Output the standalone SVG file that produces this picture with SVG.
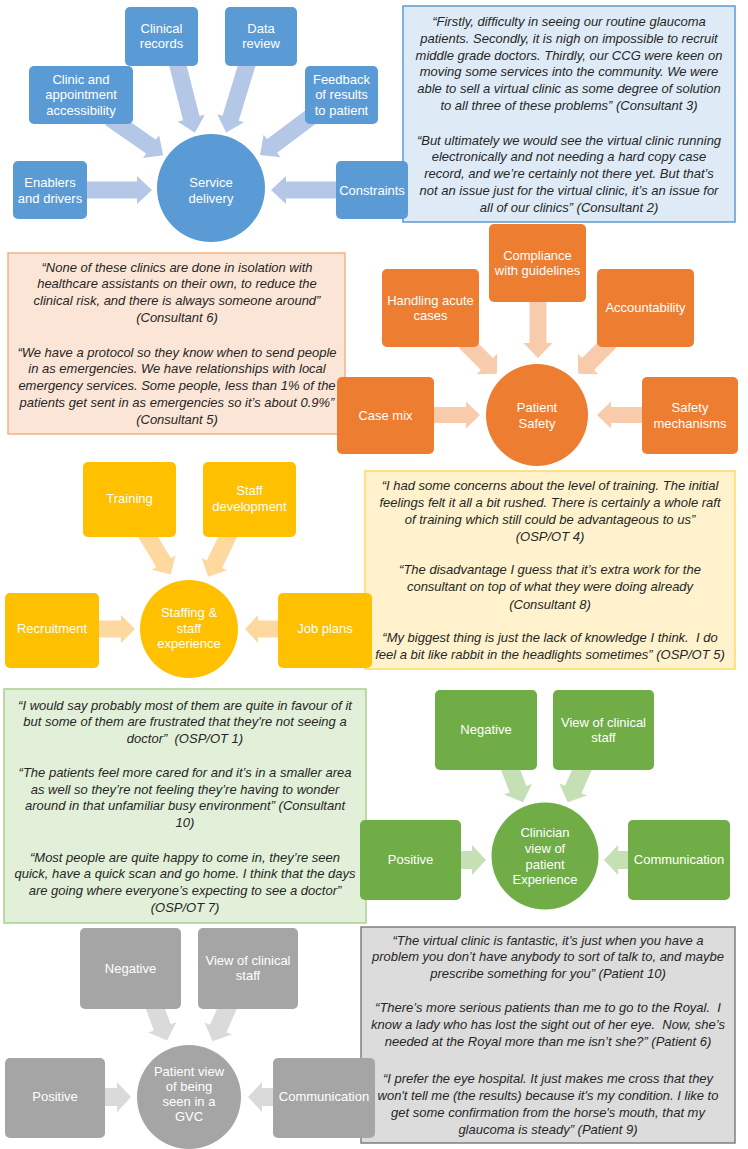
<svg xmlns="http://www.w3.org/2000/svg" width="748" height="1149" viewBox="0 0 748 1149">
<style>
.qt{font-family:"Liberation Sans",Arial,sans-serif;font-size:13px;font-style:italic;fill:#262626;text-anchor:middle}
.nt{font-family:"Liberation Sans",Arial,sans-serif;font-size:13px;fill:#ffffff;text-anchor:middle}
.qb{stroke-width:1.5}
.q-blue{fill:#deebf7;stroke:#5b9bd5}
.q-orange{fill:#fbe5d6;stroke:#f4b183}
.q-yellow{fill:#fff2cc;stroke:#ffd966}
.q-green{fill:#e2f0d9;stroke:#a9d18e}
.q-gray{fill:#dcdcdc;stroke:#7f7f7f}
.n-blue{fill:#5b9bd5}
.n-orange{fill:#ed7d31}
.n-yellow{fill:#ffc000}
.n-green{fill:#70ad47}
.n-gray{fill:#a5a5a5}
.a-blue{fill:#b4c7e7}
.a-orange{fill:#f8cbad}
.a-yellow{fill:#fdd9a0}
.a-green{fill:#c5e0b4}
.a-gray{fill:#dadada}
</style>
<rect width="748" height="1149" fill="#ffffff"/>

<!-- quote boxes -->
<g id="quote-service">
<rect class="qb q-blue" x="403" y="6" width="332" height="216"/>
<text class="qt" x="569" y="26">“Firstly, difficulty in seeing our routine glaucoma</text>
<text class="qt" x="569" y="42.8">patients. Secondly, it is nigh on impossible to recruit</text>
<text class="qt" x="569" y="59.6">middle grade doctors. Thirdly, our CCG were keen on</text>
<text class="qt" x="569" y="76.4">moving some services into the community. We were</text>
<text class="qt" x="569" y="93.2">able to sell a virtual clinic as some degree of solution</text>
<text class="qt" x="569" y="110">to all three of these problems” (Consultant 3)</text>
<text class="qt" x="569" y="144.5">“But ultimately we would see the virtual clinic running</text>
<text class="qt" x="569" y="161.3">electronically and not needing a hard copy case</text>
<text class="qt" x="569" y="178.1">record, and we’re certainly not there yet. But that’s</text>
<text class="qt" x="569" y="194.9">not an issue just for the virtual clinic, it’s an issue for</text>
<text class="qt" x="569" y="211.7">all of our clinics” (Consultant 2)</text>
</g>
<g id="quote-safety">
<rect class="qb q-orange" x="8" y="253" width="337" height="181"/>
<text class="qt" x="177" y="271.5">“None of these clinics are done in isolation with</text>
<text class="qt" x="177" y="288.3">healthcare assistants on their own, to reduce the</text>
<text class="qt" x="177" y="305.1">clinical risk, and there is always someone around”</text>
<text class="qt" x="177" y="321.9">(Consultant 6)</text>
<text class="qt" x="177" y="356.5">“We have a protocol so they know when to send people</text>
<text class="qt" x="177" y="373.3">in as emergencies. We have relationships with local</text>
<text class="qt" x="177" y="390.1">emergency services. Some people, less than 1% of the</text>
<text class="qt" x="177" y="406.9">patients get sent in as emergencies so it’s about 0.9%”</text>
<text class="qt" x="177" y="424">(Consultant 5)</text>
</g>
<g id="quote-staffing">
<rect class="qb q-yellow" x="365" y="471" width="370" height="198"/>
<text class="qt" x="550" y="489.5">“I had some concerns about the level of training. The initial</text>
<text class="qt" x="550" y="506.8">feelings felt it all a bit rushed. There is certainly a whole raft</text>
<text class="qt" x="550" y="524">of training which still could be advantageous to us”</text>
<text class="qt" x="550" y="541.2">(OSP/OT 4)</text>
<text class="qt" x="550" y="574">“The disadvantage I guess that it’s extra work for the</text>
<text class="qt" x="550" y="591.2">consultant on top of what they were doing already</text>
<text class="qt" x="550" y="608.5">(Consultant 8)</text>
<text class="qt" x="550" y="641.8" xml:space="preserve">“My biggest thing is just the lack of knowledge I think.  I do</text>
<text class="qt" x="550" y="658.8">feel a bit like rabbit in the headlights sometimes” (OSP/OT 5)</text>
</g>
<g id="quote-clinician">
<rect class="qb q-green" x="4" y="689" width="362" height="234"/>
<text class="qt" x="185" y="709.5">“I would say probably most of them are quite in favour of it</text>
<text class="qt" x="185" y="726.3">but some of them are frustrated that they're not seeing a</text>
<text class="qt" x="185" y="743" xml:space="preserve">doctor”  (OSP/OT 1)</text>
<text class="qt" x="185" y="776.8">“The patients feel more cared for and it’s in a smaller area</text>
<text class="qt" x="185" y="793.6">as well so they’re not feeling they’re having to wonder</text>
<text class="qt" x="185" y="810.4">around in that unfamiliar busy environment” (Consultant</text>
<text class="qt" x="185" y="827.2">10)</text>
<text class="qt" x="185" y="861.6">“Most people are quite happy to come in, they’re seen</text>
<text class="qt" x="185" y="878.4">quick, have a quick scan and go home. I think that the days</text>
<text class="qt" x="185" y="895.2">are going where everyone’s expecting to see a doctor”</text>
<text class="qt" x="185" y="912">(OSP/OT 7)</text>
</g>
<g id="quote-patient">
<rect class="qb q-gray" x="361" y="927" width="374" height="216"/>
<text class="qt" x="548" y="944.5">“The virtual clinic is fantastic, it’s just when you have a</text>
<text class="qt" x="548" y="961.3">problem you don’t have anybody to sort of talk to, and maybe</text>
<text class="qt" x="548" y="978.3">prescribe something for you” (Patient 10)</text>
<text class="qt" x="548" y="1011.8" xml:space="preserve">“There’s more serious patients than me to go to the Royal.  I</text>
<text class="qt" x="548" y="1028.8" xml:space="preserve">know a lady who has lost the sight out of her eye.  Now, she’s</text>
<text class="qt" x="548" y="1045.5">needed at the Royal more than me isn’t she?” (Patient 6)</text>
<text class="qt" x="548" y="1082.8">“I prefer the eye hospital. It just makes me cross that they</text>
<text class="qt" x="548" y="1099.5">won't tell me (the results) because it's my condition. I like to</text>
<text class="qt" x="548" y="1116.8">get some confirmation from the horse's mouth, that my</text>
<text class="qt" x="548" y="1133.8">glaucoma is steady” (Patient 9)</text>
</g>

<!-- connectors -->
<g id="connectors">
<path class="a-blue" transform="translate(80,190)" d="M0,-8.5H57V-14L72,0L57,14V8.5H0Z"/>
<path class="a-blue" transform="translate(343,190) rotate(180)" d="M0,-8.5H57V-14L72,0L57,14V8.5H0Z"/>
<path class="a-blue" transform="translate(110,118) rotate(34.9)" d="M0,-8.5H50V-14L65,0L50,14V8.5H0Z"/>
<path class="a-blue" transform="translate(176,58) rotate(75.8)" d="M0,-8.5H62V-14L77,0L62,14V8.5H0Z"/>
<path class="a-blue" transform="translate(249,58) rotate(107)" d="M0,-8.5H63V-14L78,0L63,14V8.5H0Z"/>
<path class="a-blue" transform="translate(312,116) rotate(143.1)" d="M0,-8.5H50V-14L65,0L50,14V8.5H0Z"/>

<path class="a-orange" transform="translate(428,415)" d="M0,-8H38V-13.5L52,0L38,13.5V8H0Z"/>
<path class="a-orange" transform="translate(650,415) rotate(180)" d="M0,-8H39V-13.5L53,0L39,13.5V8H0Z"/>
<path class="a-orange" transform="translate(538,296) rotate(90)" d="M0,-8.5H47V-14.5L62,0L47,14.5V8.5H0Z"/>
<path class="a-orange" transform="translate(465,342) rotate(45)" d="M0,-8.5H31V-14.5L45,0L31,14.5V8.5H0Z"/>
<path class="a-orange" transform="translate(610,342) rotate(135)" d="M0,-8.5H31V-14.5L45,0L31,14.5V8.5H0Z"/>

<path class="a-yellow" transform="translate(144,530) rotate(59)" d="M0,-8.5H38V-14L52,0L38,14V8.5H0Z"/>
<path class="a-yellow" transform="translate(231,530) rotate(116)" d="M0,-8.5H38V-14L52,0L38,14V8.5H0Z"/>
<path class="a-yellow" transform="translate(92,629)" d="M0,-8.5H29V-14L43,0L29,14V8.5H0Z"/>
<path class="a-yellow" transform="translate(285,629) rotate(180)" d="M0,-8.5H27V-14L40,0L27,14V8.5H0Z"/>

<path class="a-green" transform="translate(508,763) rotate(69)" d="M0,-9H28V-15L42,0L28,15V9H0Z"/>
<path class="a-green" transform="translate(585,763) rotate(114)" d="M0,-9H29V-15L43,0L29,15V9H0Z"/>
<path class="a-green" transform="translate(454,860)" d="M0,-9H18V-15L32,0L18,15V9H0Z"/>
<path class="a-green" transform="translate(636,860) rotate(180)" d="M0,-9H18V-15L32,0L18,15V9H0Z"/>

<path class="a-gray" transform="translate(153,1002) rotate(70)" d="M0,-9H27V-15L41,0L27,15V9H0Z"/>
<path class="a-gray" transform="translate(230,1002) rotate(114)" d="M0,-9H29V-15L43,0L29,15V9H0Z"/>
<path class="a-gray" transform="translate(98,1097)" d="M0,-9H19V-15L33,0L19,15V9H0Z"/>
<path class="a-gray" transform="translate(280,1097) rotate(180)" d="M0,-9H18V-15L32,0L18,15V9H0Z"/>
</g>

<!-- service delivery -->
<g id="service-delivery"><circle class="n-blue" cx="211" cy="188" r="54"/><text class="nt" x="211" y="186.5">Service</text><text class="nt" x="211" y="202.5">delivery</text></g>
<g id="clinical-records"><rect class="n-blue" x="125" y="7" width="73" height="59" rx="5"/><text class="nt" x="161.5" y="32.5">Clinical</text><text class="nt" x="161.5" y="48">records</text></g>
<g id="data-review"><rect class="n-blue" x="225" y="7" width="72" height="59" rx="5"/><text class="nt" x="261" y="32.5">Data</text><text class="nt" x="261" y="48">review</text></g>
<g id="clinic-access"><rect class="n-blue" x="29" y="66" width="104" height="58" rx="5"/><text class="nt" x="81" y="83.5">Clinic and</text><text class="nt" x="81" y="99">appointment</text><text class="nt" x="81" y="114.5">accessibility</text></g>
<g id="feedback"><rect class="n-blue" x="305" y="66" width="73" height="58" rx="5"/><text class="nt" x="341.5" y="83.5">Feedback</text><text class="nt" x="341.5" y="99">of results</text><text class="nt" x="341.5" y="114.5">to patient</text></g>
<g id="enablers"><rect class="n-blue" x="13" y="161" width="74" height="58" rx="5"/><text class="nt" x="50" y="186.5">Enablers</text><text class="nt" x="50" y="202.5">and drivers</text></g>
<g id="constraints"><rect class="n-blue" x="336" y="161" width="72" height="58" rx="5"/><text class="nt" x="372" y="194.5">Constraints</text></g>

<!-- patient safety -->
<g id="patient-safety"><circle class="n-orange" cx="537" cy="415" r="51"/><text class="nt" x="537" y="411.5">Patient</text><text class="nt" x="537" y="427.5">Safety</text></g>
<g id="compliance"><rect class="n-orange" x="489" y="224" width="97" height="78" rx="5"/><text class="nt" x="537.5" y="260">Compliance</text><text class="nt" x="537.5" y="275">with guidelines</text></g>
<g id="handling-acute"><rect class="n-orange" x="382" y="269" width="97" height="78" rx="5"/><text class="nt" x="430.5" y="304.5">Handling acute</text><text class="nt" x="430.5" y="320">cases</text></g>
<g id="accountability"><rect class="n-orange" x="597" y="269" width="97" height="78" rx="5"/><text class="nt" x="645.5" y="312">Accountability</text></g>
<g id="case-mix"><rect class="n-orange" x="337" y="377" width="97" height="77" rx="5"/><text class="nt" x="385.5" y="419.5">Case mix</text></g>
<g id="safety-mechanisms"><rect class="n-orange" x="642" y="377" width="96" height="77" rx="5"/><text class="nt" x="690" y="411.5">Safety</text><text class="nt" x="690" y="427.5">mechanisms</text></g>

<!-- staffing -->
<g id="staffing"><circle class="n-yellow" cx="189" cy="629" r="49"/><text class="nt" x="189" y="617">Staffing &amp;</text><text class="nt" x="189" y="632.5">staff</text><text class="nt" x="189" y="648">experience</text></g>
<g id="training"><rect class="n-yellow" x="83" y="462" width="93" height="75" rx="5"/><text class="nt" x="129.5" y="503">Training</text></g>
<g id="staff-development"><rect class="n-yellow" x="203" y="462" width="93" height="75" rx="5"/><text class="nt" x="249.5" y="495">Staff</text><text class="nt" x="249.5" y="511">development</text></g>
<g id="recruitment"><rect class="n-yellow" x="5" y="593" width="94" height="75" rx="5"/><text class="nt" x="52" y="633">Recruitment</text></g>
<g id="job-plans"><rect class="n-yellow" x="278" y="593" width="94" height="75" rx="5"/><text class="nt" x="325" y="633">Job plans</text></g>

<!-- clinician view -->
<g id="clinician-view"><circle class="n-green" cx="545" cy="856" r="53.5"/><text class="nt" x="545" y="837">Clinician</text><text class="nt" x="545" y="853">view of</text><text class="nt" x="545" y="868.5">patient</text><text class="nt" x="545" y="884">Experience</text></g>
<g id="green-negative"><rect class="n-green" x="435" y="690" width="102" height="80" rx="5"/><text class="nt" x="486" y="734">Negative</text></g>
<g id="green-view-staff"><rect class="n-green" x="553" y="690" width="101" height="80" rx="5"/><text class="nt" x="603.5" y="727">View of clinical</text><text class="nt" x="603.5" y="742">staff</text></g>
<g id="green-positive"><rect class="n-green" x="360" y="820" width="101" height="80" rx="5"/><text class="nt" x="410.5" y="864">Positive</text></g>
<g id="green-communication"><rect class="n-green" x="628" y="820" width="102" height="80" rx="5"/><text class="nt" x="679" y="864">Communication</text></g>

<!-- patient view -->
<g id="patient-view"><circle class="n-gray" cx="189" cy="1097" r="52"/><text class="nt" x="189" y="1075.5">Patient view</text><text class="nt" x="189" y="1090.5">of being</text><text class="nt" x="189" y="1106">seen in a</text><text class="nt" x="189" y="1121">GVC</text></g>
<g id="gray-negative"><rect class="n-gray" x="80" y="928" width="101" height="81" rx="5"/><text class="nt" x="130.5" y="973">Negative</text></g>
<g id="gray-view-staff"><rect class="n-gray" x="198" y="928" width="100" height="81" rx="5"/><text class="nt" x="248" y="964.5">View of clinical</text><text class="nt" x="248" y="979.5">staff</text></g>
<g id="gray-positive"><rect class="n-gray" x="5" y="1058" width="100" height="80" rx="5"/><text class="nt" x="55" y="1101">Positive</text></g>
<g id="gray-communication"><rect class="n-gray" x="273" y="1058" width="102" height="80" rx="5"/><text class="nt" x="324" y="1101">Communication</text></g>
</svg>
